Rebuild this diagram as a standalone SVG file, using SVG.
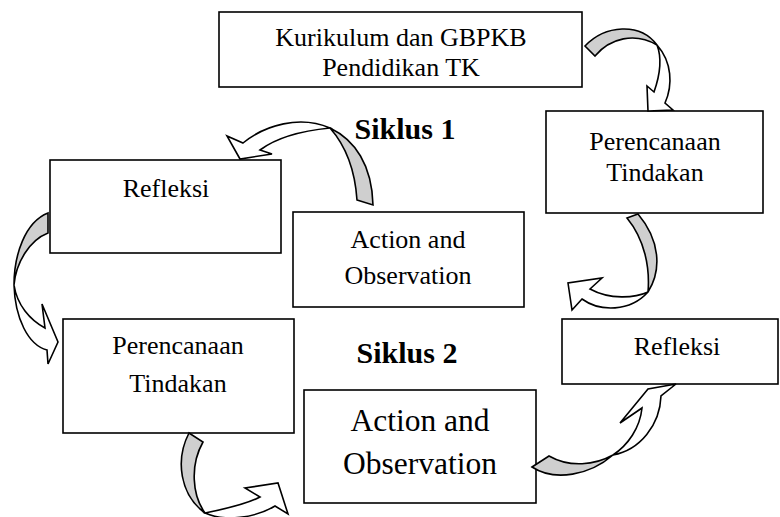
<svg xmlns="http://www.w3.org/2000/svg" width="780" height="517" viewBox="0 0 780 517">
<style>
.box{fill:#fff;stroke:#000;stroke-width:1.6}
.t{font-family:"Liberation Serif","Times New Roman",serif;font-size:26px;fill:#000;text-anchor:middle}
.big{font-size:31.5px}
.ttl{font-family:"Liberation Serif","Times New Roman",serif;font-size:30px;font-weight:bold;fill:#000;text-anchor:middle}
.back{fill:#cfcfcf;stroke:#000;stroke-width:1.6;stroke-linejoin:miter}
.front{fill:#fff;stroke:#000;stroke-width:1.6;stroke-linejoin:miter}
</style>
<rect width="780" height="517" fill="#fff"/>
<g id="kurikulum">
<rect class="box" x="219" y="12" width="363" height="75"/>
<text class="t" x="401" y="46">Kurikulum dan GBPKB</text>
<text class="t" x="401" y="76">Pendidikan TK</text>
</g>
<g id="perencanaan1">
<rect class="box" x="546" y="111" width="217" height="102"/>
<text class="t" x="655" y="150">Perencanaan</text>
<text class="t" x="655" y="181">Tindakan</text>
</g>
<g id="siklus1">
<text class="ttl" x="405" y="139">Siklus 1</text>
</g>
<g id="refleksi1">
<rect class="box" x="50" y="160" width="231" height="93"/>
<text class="t" x="166" y="197">Refleksi</text>
</g>
<g id="action1">
<rect class="box" x="293" y="212" width="231" height="95"/>
<text class="t" x="408" y="248">Action and</text>
<text class="t" x="408" y="284">Observation</text>
</g>
<g id="perencanaan2">
<rect class="box" x="63" y="319" width="231" height="114"/>
<text class="t" x="178" y="354">Perencanaan</text>
<text class="t" x="178" y="392">Tindakan</text>
</g>
<g id="siklus2">
<text class="ttl" x="407" y="363">Siklus 2</text>
</g>
<g id="refleksi2">
<rect class="box" x="562" y="319" width="216" height="65"/>
<text class="t" x="677" y="355">Refleksi</text>
</g>
<g id="action2">
<rect class="box" x="304" y="390" width="232" height="113"/>
<text class="t big" x="420" y="431">Action and</text>
<text class="t big" x="420" y="474">Observation</text>
</g>
<g id="connectors">
<!-- A: Kurikulum -> Perencanaan -->
<path class="front" d="M657 45 C672 62 673 85 665 103 L673 110 L648 111 L647 86 L654 92 C660 75 662 58 657 45 Z"/>
<path class="back" d="M585 46 C605 25 640 22 657 45 C635 32 610 38 595 56 Z"/>
<!-- B: Action1 -> Refleksi1 -->
<path class="front" d="M330 128 C300 115 265 125 243 143 L227 136 L240 159 L272 154 L260 150 C280 135 310 130 330 128 Z"/>
<path class="back" d="M357 200 L373 205 C372 165 355 140 330 128 C345 145 355 170 357 200 Z"/>
<!-- C: Refleksi1 -> Perencanaan2 -->
<path class="back" d="M48 213 L48 233 C30 240 16 262 14 285 C14 255 25 222 48 213 Z"/>
<path class="front" d="M14 285 C15 318 28 345 47 350 L48 364 L58 342 L42 304 L45 328 C30 320 17 305 14 285 Z"/>
<!-- D: Perencanaan1 -> Refleksi2 -->
<path class="back" d="M627 218 L638 214 C660 240 662 270 648 292 C650 268 645 240 627 218 Z"/>
<path class="front" d="M648 292 C630 312 600 312 582 299 L572 310 L568 283 L602 278 L590 289 C610 300 635 298 648 292 Z"/>
<!-- E: Perencanaan2 -> Action2 -->
<path class="back" d="M189 433 L203 442 C190 465 192 495 205 513 C180 495 175 460 189 433 Z"/>
<path class="front" d="M205 513 C225 522 255 518 275 506 L288 514 L278 483 L245 488 L260 497 C245 505 220 510 205 513 Z"/>
<!-- F: Action2 -> Refleksi2 -->
<path class="back" d="M532 467 L549 456 C570 468 595 465 613 455 C590 475 555 482 532 467 Z"/>
<path class="front" d="M613 455 C628 445 640 428 642 408 L620 423 L648 389 L676 384 L661 396 C660 425 640 450 613 455 Z"/>
</g>
</svg>
